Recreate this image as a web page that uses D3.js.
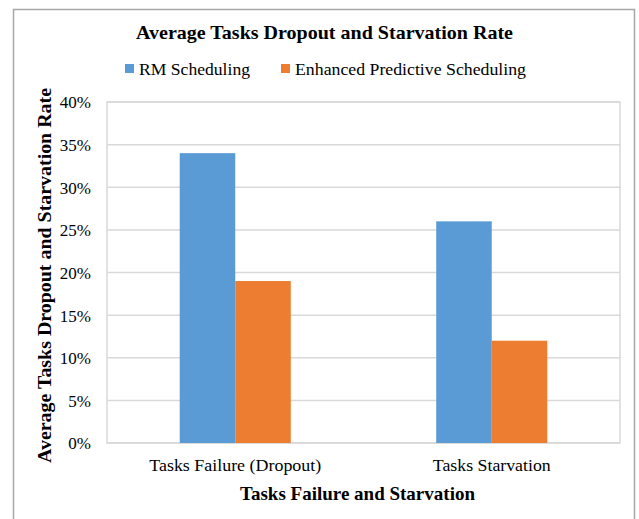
<!DOCTYPE html>
<html>
<head>
<meta charset="utf-8">
<script src="https://cdn.jsdelivr.net/npm/d3@7"></script>
<style>
  html, body { margin: 0; padding: 0; background: #fff; }
  svg { display: block; }
  text { font-family: "Liberation Serif", "DejaVu Serif", serif; fill: #000; }
</style>
</head>
<body>
<svg id="chart" width="639" height="519"></svg>
<script>
// Data
const categories = ["Tasks Failure (Dropout)", "Tasks Starvation"];
const seriesNames = ["RM Scheduling", "Enhanced Predictive Scheduling"];
const rmValues = [34, 26];
const epsValues = [19, 12];
const yTicks = [0, 5, 10, 15, 20, 25, 30, 35, 40];
const colors = ["#5B9BD5", "#ED7D31"];

const svg = d3.select("#chart");
const plot = { left: 107, top: 102, right: 620, bottom: 443 };
const serif = "Liberation Serif, serif";

// Chart frame
svg.append("rect")
  .attr("x", 13.5).attr("y", 9.5)
  .attr("width", 621).attr("height", 520)
  .attr("fill", "#fff").attr("stroke", "#a6a6a6").attr("stroke-width", 1.5);

const x0 = d3.scaleBand()
  .domain(categories)
  .range([plot.left, plot.right])
  .paddingInner(0.567)
  .paddingOuter(0.2835);

const x1 = d3.scaleBand()
  .domain(seriesNames)
  .range([0, x0.bandwidth()]);

const y = d3.scaleLinear().domain([0, 40]).range([plot.bottom, plot.top]);

// Gridlines
svg.append("g")
  .selectAll("line")
  .data(yTicks)
  .join("line")
  .attr("x1", plot.left).attr("x2", plot.right)
  .attr("y1", d => y(d)).attr("y2", d => y(d))
  .attr("stroke", "#d9d9d9").attr("stroke-width", 1.5);

// Plot border
svg.append("rect")
  .attr("x", plot.left).attr("y", plot.top)
  .attr("width", plot.right - plot.left).attr("height", plot.bottom - plot.top)
  .attr("fill", "none").attr("stroke", "#d9d9d9").attr("stroke-width", 1.5);

// Bars
const rows = categories.map((c, i) => ({ cat: c, vals: [rmValues[i], epsValues[i]] }));
svg.append("g")
  .selectAll("g")
  .data(rows)
  .join("g")
  .attr("transform", d => `translate(${x0(d.cat)},0)`)
  .selectAll("rect")
  .data(d => d.vals.map((v, j) => ({ name: seriesNames[j], v, j })))
  .join("rect")
  .attr("x", d => x1(d.name))
  .attr("width", x1.bandwidth())
  .attr("y", d => y(d.v))
  .attr("height", d => y(0) - y(d.v))
  .attr("fill", d => colors[d.j]);

// Y axis
const yAxis = d3.axisLeft(y).tickValues(yTicks).tickFormat(d => d + "%").tickSize(0).tickPadding(0);
const gy = svg.append("g").attr("transform", `translate(${plot.left - 16},0)`).call(yAxis);
gy.select(".domain").remove();
gy.selectAll("text")
  .attr("font-size", 17).attr("font-family", serif).attr("fill", "#000")
  .attr("dy", "0.35em");

// X axis
const xTickWidths = { "Tasks Failure (Dropout)": 172, "Tasks Starvation": 118 };
const xAxis = d3.axisBottom(x0).tickSize(0).tickPadding(0);
const gx = svg.append("g").attr("transform", `translate(0,${plot.bottom + 16})`).call(xAxis);
gx.select(".domain").remove();
gx.selectAll("text")
  .attr("font-size", 16.5).attr("font-family", serif).attr("fill", "#000")
  .attr("dy", "0.71em")
  .attr("textLength", d => xTickWidths[d]).attr("lengthAdjust", "spacingAndGlyphs");

// Title
svg.append("text")
  .attr("x", 324.5).attr("y", 39)
  .attr("text-anchor", "middle")
  .attr("font-size", 19).attr("font-weight", "bold")
  .attr("textLength", 377).attr("lengthAdjust", "spacingAndGlyphs")
  .text("Average Tasks Dropout and Starvation Rate");

// Legend
const legend = svg.append("g");
const legendItems = [
  { x: 125, w: 111, name: seriesNames[0] },
  { x: 281, w: 231, name: seriesNames[1] }
];
legendItems.forEach((it, i) => {
  legend.append("rect").attr("x", it.x).attr("y", 64).attr("width", 9).attr("height", 9).attr("fill", colors[i]);
  legend.append("text").attr("x", it.x + 14).attr("y", 75)
    .attr("font-size", 16.5)
    .attr("textLength", it.w).attr("lengthAdjust", "spacingAndGlyphs")
    .text(it.name);
});

// Axis titles
svg.append("text")
  .attr("transform", `translate(51,275.5) rotate(-90)`)
  .attr("text-anchor", "middle")
  .attr("font-size", 19).attr("font-weight", "bold")
  .attr("textLength", 375).attr("lengthAdjust", "spacingAndGlyphs")
  .text("Average Tasks Dropout and Starvation Rate");

svg.append("text")
  .attr("x", 357.5).attr("y", 500)
  .attr("text-anchor", "middle")
  .attr("font-size", 19).attr("font-weight", "bold")
  .attr("textLength", 235).attr("lengthAdjust", "spacingAndGlyphs")
  .text("Tasks Failure and Starvation");
</script>
</body>
</html>
